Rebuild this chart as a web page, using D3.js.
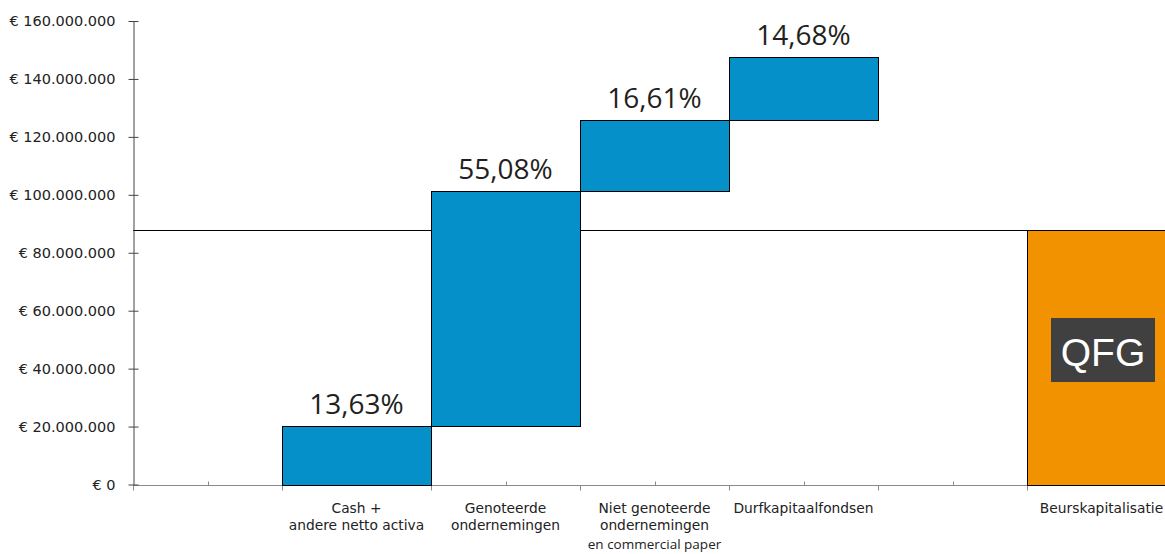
<!DOCTYPE html>
<html>
<head>
<meta charset="utf-8">
<script src="https://cdn.jsdelivr.net/npm/d3@7/dist/d3.min.js"></script>
<style>
  html, body { margin: 0; padding: 0; background: #fff; }
  svg { display: block; overflow: hidden; }
</style>
</head>
<body>
<svg id="chart" width="1165" height="554"></svg>
<script>
// Portfolio composition versus market capitalisation (EUR)
const categories = ["", "Cash +\nandere netto activa", "Genoteerde\nondernemingen",
  "Niet genoteerde\nondernemingen\nen commercial paper", "Durfkapitaalfondsen", "", "Beurskapitalisatie"];
const stepCategories = [1, 2, 3, 4];            // band index of each waterfall step
const stepShares = [13.63, 55.08, 16.61, 14.68]; // % of net asset value
const stepLabels = ["13,63%", "55,08%", "16,61%", "14,68%"];
const netAssetValue = 147600000;
const marketCapCategory = 6;
const marketCap = 87900000;
const yTicks = [0, 20000000, 40000000, 60000000, 80000000, 100000000, 120000000, 140000000, 160000000];

const svg = d3.select("#chart");
const axisLeftX = 133, bandW = 149;

const y = d3.scaleLinear().domain([0, 160000000]).range([484.5, 21]);
const x = d3.scaleBand().domain(d3.range(categories.length))
  .range([axisLeftX, axisLeftX + bandW * categories.length]).padding(0);

// waterfall steps
let running = 0;
const steps = stepShares.map((p, i) => {
  const v = netAssetValue * p / 100;
  const s = { cat: stepCategories[i], start: running, end: running + v, label: stepLabels[i] };
  running += v;
  return s;
});

const g = svg.append("g");

// market-cap reference line
g.append("line")
  .attr("x1", axisLeftX).attr("x2", x(marketCapCategory))
  .attr("y1", Math.round(y(marketCap)) + 0.5).attr("y2", Math.round(y(marketCap)) + 0.5)
  .attr("stroke", "#000").attr("stroke-width", 1);

// x axis baseline and ticks
const baseY = Math.round(y(0)) + 0.5;
g.append("line").attr("x1", axisLeftX).attr("x2", 1165)
  .attr("y1", baseY).attr("y2", baseY).attr("stroke", "#8a8a8a");
const boundaryTicks = d3.range(categories.length + 1).map(i => i === categories.length ? x.range()[1] : x(i));
const midTicks = d3.range(categories.length).map(i => x(i) + x.bandwidth() / 2);
g.selectAll("line.btick").data(boundaryTicks).join("line")
  .attr("x1", d => Math.round(d) + 0.5).attr("x2", d => Math.round(d) + 0.5)
  .attr("y1", baseY).attr("y2", baseY + 5).attr("stroke", "#8a8a8a");
g.selectAll("line.mtick").data(midTicks).join("line")
  .attr("x1", d => Math.round(d) + 0.5).attr("x2", d => Math.round(d) + 0.5)
  .attr("y1", baseY - 4).attr("y2", baseY).attr("stroke", "#8a8a8a");

// waterfall bars
g.selectAll("rect.step").data(steps).join("rect")
  .attr("x", d => Math.round(x(d.cat)) + 0.5)
  .attr("width", Math.round(x.bandwidth()))
  .attr("y", d => Math.round(y(d.end)) + 0.5)
  .attr("height", d => Math.round(y(d.start)) - Math.round(y(d.end)))
  .attr("fill", "#0590CA").attr("stroke", "#000").attr("stroke-width", 1);

// share labels
g.selectAll("text.share").data(steps).join("text")
  .attr("x", d => x(d.cat) + x.bandwidth() / 2)
  .attr("y", d => y(d.end) - 12)
  .attr("text-anchor", "middle")
  .attr("font-family", "'Open Sans', sans-serif")
  .attr("font-size", 28).attr("fill", "#231f20")
  .text(d => d.label);

// market capitalisation bar
g.append("rect")
  .attr("x", Math.round(x(marketCapCategory)) + 0.5)
  .attr("width", Math.round(x.bandwidth()))
  .attr("y", Math.round(y(marketCap)) + 0.5)
  .attr("height", Math.round(y(0)) - Math.round(y(marketCap)))
  .attr("fill", "#F39200").attr("stroke", "#000").attr("stroke-width", 1);

// QFG badge
g.append("rect").attr("x", 1051).attr("y", 318).attr("width", 104).attr("height", 64)
  .attr("fill", "#404040");
g.append("text").attr("x", 1103).attr("y", 366).attr("text-anchor", "middle")
  .attr("font-family", "'Liberation Sans', Arial, sans-serif")
  .attr("font-size", 39).attr("fill", "#fff").text("QFG");

// y axis
const yAxis = d3.axisLeft(y).tickValues(yTicks).tickSizeInner(5).tickSizeOuter(0).tickPadding(13)
  .tickFormat(v => "€ " + d3.format(",")(v).replace(/,/g, "."));
const ya = g.append("g").attr("transform", `translate(${axisLeftX + 0.5},0)`).call(yAxis);
ya.select(".domain").attr("stroke", "#444");
ya.selectAll(".tick line").attr("x1", 5).attr("stroke", "#444");
ya.selectAll(".tick text").attr("font-family", "'DejaVu Sans', Verdana, sans-serif")
  .attr("font-size", 14.5).attr("fill", "#222");

// category labels
const lab = g.selectAll("text.cat").data(categories.map((c, i) => ({ c, i })).filter(d => d.c))
  .join("text")
  .attr("text-anchor", "middle")
  .attr("font-family", "'DejaVu Sans', Verdana, sans-serif")
  .attr("font-size", 13.8).attr("fill", "#222");
lab.each(function (d) {
  const lines = d.c.split("\n");
  const t = d3.select(this);
  lines.forEach((ln, k) => {
    const sp = t.append("tspan").attr("x", x(d.i) + x.bandwidth() / 2)
      .attr("y", 513 + k * 17).text(ln);
    if (k === 2) sp.attr("font-family", "'Liberation Sans Narrow', 'Open Sans', sans-serif")
      .attr("font-size", 13.5).attr("y", 549);
  });
});
</script>
</body>
</html>
